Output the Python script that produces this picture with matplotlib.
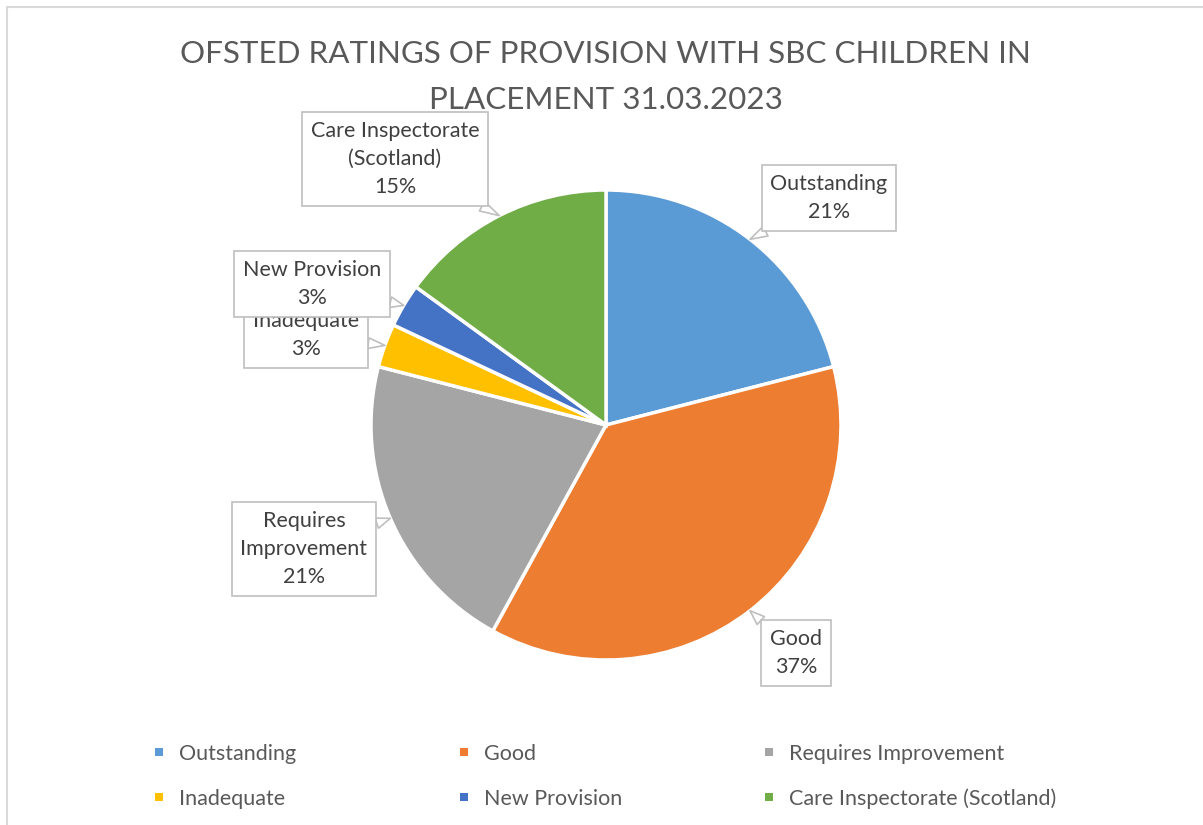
import numpy as np
import matplotlib
matplotlib.use("Agg")
import matplotlib.pyplot as plt
from matplotlib.patches import Rectangle

# ---------- DATA ----------
categories = ["Outstanding", "Good", "Requires Improvement", "Inadequate",
              "New Provision", "Care Inspectorate (Scotland)"]
values = [21, 37, 21, 3, 3, 15]
box_labels = ["Outstanding", "Good", "Requires\nImprovement", "Inadequate",
              "New Provision", "Care Inspectorate\n(Scotland)"]
colors = ["#5B9BD5", "#ED7D31", "#A5A5A5", "#FFC000", "#4472C4", "#70AD47"]
title = "OFSTED RATINGS OF PROVISION WITH SBC CHILDREN IN\nPLACEMENT 31.03.2023"

# ---------- LAYOUT (pixels) ----------
W, H = 1203, 825
CX, CY, R = 606, 425, 235
# label box centres (pixel coords, y down) in category order
box_pos = [(829, 198), (796, 653), (304, 549), (306, 335), (312, 284), (395, 159)]
legend_cols = [155, 460, 765]
legend_rows = [752, 797]

plt.rcParams["font.family"] = ["Lato", "DejaVu Sans"]

fig = plt.figure(figsize=(W / 100, H / 100), dpi=100)
ax = fig.add_axes([0, 0, 1, 1])
ax.set_xlim(0, W)
ax.set_ylim(0, H)
ax.set_aspect("equal")
ax.axis("off")

def Y(py):
    return H - py

# chart border (only top and left visible)
ax.plot([7, 7, W], [0, Y(7), Y(7)], color="#D9D9D9", lw=1.5, zorder=1)

# ---------- PIE ----------
wedges, _ = ax.pie(values, colors=colors, startangle=90, counterclock=False,
                   center=(CX, Y(CY)), radius=R,
                   wedgeprops=dict(edgecolor="white", linewidth=2.5))
ax.set_xlim(0, W)
ax.set_ylim(0, H)

# ---------- CALLOUT LABELS ----------
total = sum(values)
order = [0, 1, 2, 3, 5, 4]  # draw New Provision last so it sits on top
for i in order:
    w = wedges[i]
    mid = np.deg2rad((w.theta1 + w.theta2) / 2)
    px = CX + R * np.cos(mid)
    py = Y(CY) + R * np.sin(mid)
    pct = f"{round(values[i] / total * 100)}%"
    bx, by = box_pos[i]
    ax.annotate(f"{box_labels[i]}\n{pct}", xy=(px, py), xytext=(bx, Y(by)),
                ha="center", va="center", fontsize=15.5, color="#404040",
                linespacing=1.5, zorder=5 + i,
                bbox=dict(boxstyle="square,pad=0.4", fc="white", ec="#BFBFBF", lw=1.2),
                arrowprops=dict(arrowstyle="wedge,tail_width=0.5", fc="white",
                                ec="#BFBFBF", lw=1.2, shrinkA=0, shrinkB=0))

# ---------- TITLE ----------
ax.text(W / 2 + 4, Y(77), title, ha="center", va="center", fontsize=22.6,
        color="#595959", linespacing=1.75)

# ---------- LEGEND ----------
for k, (name, col) in enumerate(zip(categories, colors)):
    lx = legend_cols[k % 3]
    ly = legend_rows[k // 3]
    ax.add_patch(Rectangle((lx, Y(ly) - 4), 8, 8, color=col, lw=0))
    ax.text(lx + 24, Y(ly), name, ha="left", va="center_baseline", fontsize=15.5,
            color="#595959")

fig.savefig("out.png", dpi=100)
